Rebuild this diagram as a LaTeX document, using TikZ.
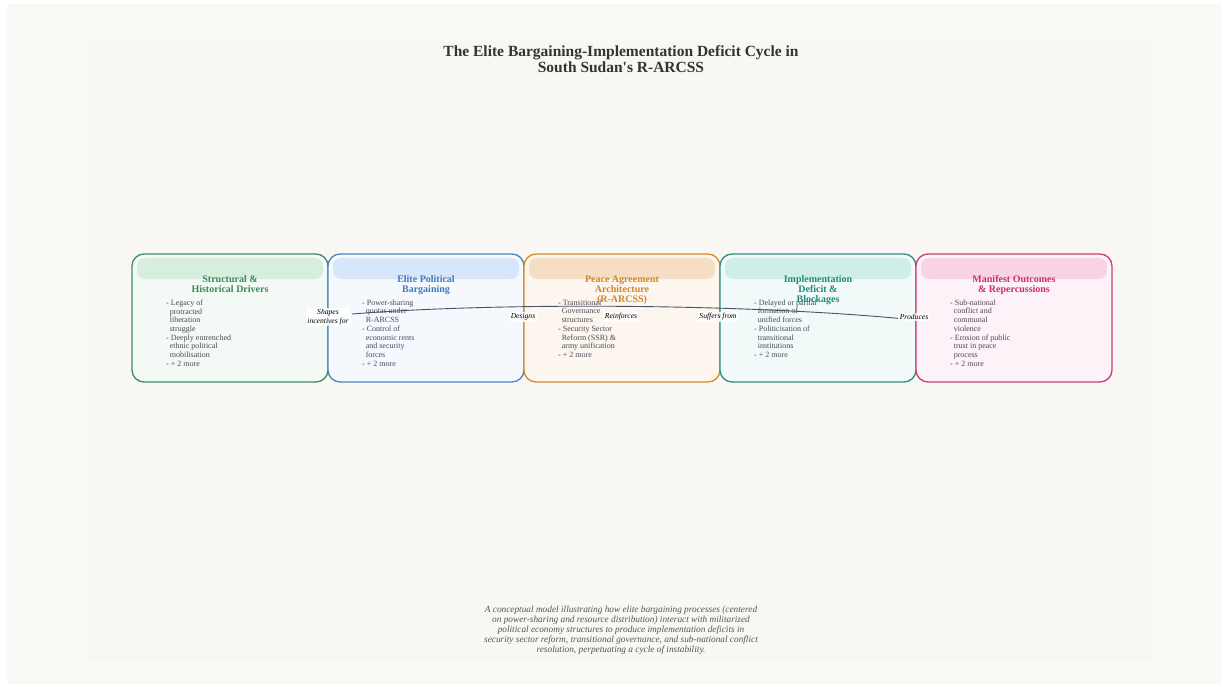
\documentclass[tikz,border=0pt]{standalone}
\usepackage{fontspec}
\setmainfont{Liberation Serif}
\usetikzlibrary{positioning}

\definecolor{pagebg}{HTML}{FAF9F6}
\definecolor{panelbg}{HTML}{F8F7F4}
\definecolor{titlegray}{HTML}{333333}
\definecolor{bodygray}{HTML}{4A4A58}
\definecolor{capgray}{HTML}{555555}
\definecolor{flowline}{HTML}{4A5266}
% stage colours
\definecolor{grnline}{HTML}{3D8F5F}\definecolor{grnhead}{HTML}{D6EEDE}\definecolor{grnfill}{HTML}{F3F9F5}\definecolor{grntext}{HTML}{3A8A5A}
\definecolor{bluline}{HTML}{4A86C0}\definecolor{bluhead}{HTML}{D7E7F9}\definecolor{blufill}{HTML}{F5F9FE}\definecolor{blutext}{HTML}{3D7BBF}
\definecolor{orgline}{HTML}{D88A30}\definecolor{orghead}{HTML}{F5DEC3}\definecolor{orgfill}{HTML}{FDF6EE}\definecolor{orgtext}{HTML}{D0862A}
\definecolor{telline}{HTML}{2F9080}\definecolor{telhead}{HTML}{CEEEE8}\definecolor{telfill}{HTML}{F1FAF9}\definecolor{teltext}{HTML}{1F8A7A}
\definecolor{pnkline}{HTML}{CC3D7A}\definecolor{pnkhead}{HTML}{F7D3E3}\definecolor{pnkfill}{HTML}{FDF2F7}\definecolor{pnktext}{HTML}{C8306E}

\newcommand{\ind}{\hspace*{0.45em}}

\begin{document}
\begin{tikzpicture}[x=1pt, y=-1pt, node distance={196pt},
    stage/.style = {draw, rounded corners=12pt, line width=1.3pt, minimum width=196pt, minimum height=128pt, inner sep=0pt, outer sep=0pt},
    head/.style = {font=\fontsize{10}{10}\selectfont\bfseries, align=center, inner sep=0pt, anchor=north},
    items/.style = {font=\fontsize{8}{8.7}\selectfont, align=left, anchor=north west, inner sep=0pt, text=bodygray},
    link/.style = {font=\fontsize{7.6}{8.5}\selectfont\itshape, align=center, fill=white, fill opacity=0.85, text opacity=1, inner sep=1.5pt}]

    \useasboundingbox (0,0) rectangle (1229,687);
    \fill[white] (0,0) rectangle (1229,687);
    \fill[pagebg] (7,4) rectangle (1222,684);
    \fill[panelbg] (88,42) rectangle (1152,660);

    \node[font=\fontsize{15.5}{16}\selectfont\bfseries, text=titlegray, align=center] (title) at (621,59)
        {The Elite Bargaining-Implementation Deficit Cycle in\\South Sudan\textquotesingle s R-ARCSS};

    % the five stages
    \node[stage, draw=grnline, fill=grnfill] (s1) at (230,318) {};
    \node[stage, draw=bluline, fill=blufill] (s2) [right of=s1] {};
    \node[stage, draw=orgline, fill=orgfill] (s3) [right of=s2] {};
    \node[stage, draw=telline, fill=telfill] (s4) [right of=s3] {};
    \node[stage, draw=pnkline, fill=pnkfill] (s5) [right of=s4] {};

    \foreach \i/\c in {1/grn,2/blu,3/org,4/tel,5/pnk}
        \fill[\c head, rounded corners=8pt] ([xshift=5pt,yshift=-4pt]s\i.north west) rectangle ([xshift=-5pt,yshift=-25pt]s\i.north east);

    \node[head, text=grntext] (h1) at ([yshift=-21.5pt]s1.north) {Structural \&\\Historical Drivers};
    \node[head, text=blutext] (h2) at ([yshift=-21.5pt]s2.north) {Elite Political\\Bargaining};
    \node[head, text=orgtext] (h3) at ([yshift=-21.5pt]s3.north) {Peace Agreement\\Architecture\\(R-ARCSS)};
    \node[head, text=teltext] (h4) at ([yshift=-21.5pt]s4.north) {Implementation\\Deficit \&\\Blockages};
    \node[head, text=pnktext] (h5) at ([yshift=-21.5pt]s5.north) {Manifest Outcomes\\\& Repercussions};

    \node[items] (i1) at ([xshift=34pt,yshift=-45.5pt]s1.north west)
        {- Legacy of\\\ind protracted\\\ind liberation\\\ind struggle\\- Deeply entrenched\\\ind ethnic political\\\ind mobilisation\\- + 2 more};
    \node[items] (i2) at ([xshift=34pt,yshift=-45.5pt]s2.north west)
        {- Power-sharing\\\ind quotas under\\\ind R-ARCSS\\- Control of\\\ind economic rents\\\ind and security\\\ind forces\\- + 2 more};
    \node[items] (i3) at ([xshift=34pt,yshift=-45.5pt]s3.north west)
        {- Transitional\\\ind Governance\\\ind structures\\- Security Sector\\\ind Reform (SSR) \&\\\ind army unification\\- + 2 more};
    \node[items] (i4) at ([xshift=34pt,yshift=-45.5pt]s4.north west)
        {- Delayed or partial\\\ind formation of\\\ind unified forces\\- Politicisation of\\\ind transitional\\\ind institutions\\- + 2 more};
    \node[items] (i5) at ([xshift=34pt,yshift=-45.5pt]s5.north west)
        {- Sub-national\\\ind conflict and\\\ind communal\\\ind violence\\- Erosion of public\\\ind trust in peace\\\ind process\\- + 2 more};

    % the cycle line and its labels
    \coordinate (c0) at (352,314);
    \coordinate (c1) at (905,319);
    \draw[flowline, line width=0.9pt] (c0) .. controls (500,302) and (750,304) .. (c1);

    \node[link] (l1) at (328,317) {Shapes\\incentives for};
    \node[link] (l2) at (523,317) {Designs};
    \node[link] (l3) at (621,317) {Reinforces};
    \node[link] (l4) at (718,317) {Suffers from};
    \node[link] (l5) at (914,317) {Produces};

    \node[font=\fontsize{9.3}{10}\selectfont\itshape, text=capgray, align=center] (cap) at (621,630.5)
        {A conceptual model illustrating how elite bargaining processes (centered\\on power-sharing and resource distribution) interact with militarized\\political economy structures to produce implementation deficits in\\security sector reform, transitional governance, and sub-national conflict\\resolution, perpetuating a cycle of instability.};
\end{tikzpicture}
\end{document}
